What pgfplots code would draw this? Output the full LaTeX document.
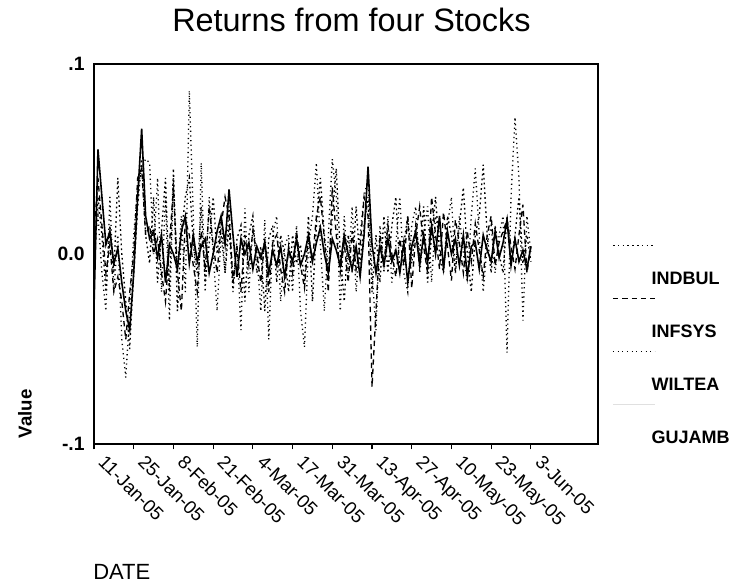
\documentclass[border=0pt]{standalone}
\usepackage{pgfplots}
\pgfplotsset{compat=1.18}
\usepackage{pgfplotstable}
\usepackage{fontspec}
\setmainfont{Liberation Sans}

\pgfplotstableread{
x indbul infsys wiltea gujamb
1 -0.010 0.010 0.005 -0.028
2 0.030 0.040 0.020 0.055
3 0.010 0.015 -0.010 0.030
4 -0.020 -0.010 -0.030 0.005
5 0.015 0.005 0.030 0.012
6 -0.010 -0.020 -0.020 -0.005
7 0.040 -0.012 0.010 0.003
8 0.000 -0.025 -0.045 -0.015
9 -0.025 -0.045 -0.065 -0.030
10 -0.050 -0.020 -0.030 -0.040
11 -0.010 0.000 0.010 -0.010
12 0.025 0.040 0.035 0.030
13 0.050 0.045 0.045 0.066
14 0.010 0.010 0.050 0.020
15 -0.005 0.015 0.048 0.008
16 0.030 0.000 0.000 0.012
17 -0.015 0.008 0.040 -0.002
18 0.012 -0.010 -0.020 0.010
19 0.040 -0.025 0.030 -0.015
20 -0.020 0.005 -0.035 0.005
21 0.045 0.035 0.040 0.000
22 -0.030 -0.010 -0.010 -0.008
23 0.010 -0.030 0.020 0.012
24 0.030 0.018 -0.020 0.020
25 0.040 0.010 0.086 -0.005
26 0.005 -0.006 0.020 0.010
27 -0.010 -0.020 -0.049 -0.004
28 0.025 0.012 0.048 0.004
29 -0.015 -0.008 -0.020 0.008
30 0.005 0.025 0.030 -0.010
31 0.030 0.005 0.000 0.000
32 0.000 -0.010 -0.030 0.012
33 0.020 0.015 0.010 0.020
34 -0.010 0.030 -0.010 0.005
35 0.015 0.020 0.025 0.034
36 -0.020 -0.015 -0.015 0.010
37 0.008 0.004 0.005 -0.012
38 0.015 -0.020 -0.040 0.008
39 -0.025 0.010 0.024 0.000
40 0.010 -0.006 -0.020 0.006
41 0.020 0.012 0.015 -0.008
42 -0.010 0.000 0.000 0.004
43 0.004 -0.015 -0.030 -0.002
44 -0.030 0.008 0.018 0.006
45 0.008 -0.020 -0.045 -0.010
46 0.015 0.006 0.010 0.002
47 -0.015 0.010 0.020 -0.006
48 0.010 -0.008 -0.025 0.004
49 0.000 -0.020 0.004 -0.012
50 -0.020 0.004 0.010 0.002
51 0.010 -0.010 -0.020 -0.004
52 -0.005 0.012 0.015 0.008
53 0.005 -0.006 -0.030 -0.006
54 -0.015 -0.018 -0.049 0.000
55 0.020 0.010 0.005 0.010
56 -0.025 -0.004 0.020 -0.004
57 0.015 0.020 0.048 0.006
58 0.040 0.030 0.005 0.014
59 0.010 0.008 -0.030 0.000
60 -0.010 -0.020 0.010 -0.010
61 0.020 0.035 0.050 0.008
62 0.045 0.010 0.030 0.002
63 0.000 -0.010 -0.030 -0.006
64 -0.025 0.006 0.020 0.010
65 0.010 -0.015 -0.010 0.000
66 -0.010 0.012 0.025 -0.008
67 0.025 -0.008 -0.020 0.004
68 -0.005 0.004 0.010 -0.012
69 0.015 0.030 0.030 0.010
70 0.030 0.020 0.040 0.046
71 -0.020 -0.070 -0.010 0.005
72 0.010 -0.030 -0.040 -0.010
73 -0.015 0.010 0.015 0.004
74 0.020 -0.005 -0.010 -0.006
75 -0.010 0.015 0.020 0.008
76 0.015 0.000 -0.015 -0.004
77 0.030 -0.012 0.005 0.002
78 -0.010 0.008 0.030 -0.010
79 0.005 -0.006 -0.010 0.006
80 0.020 0.020 -0.020 -0.015
81 -0.005 -0.018 0.015 0.004
82 0.015 0.010 0.025 0.012
83 0.000 0.025 -0.010 -0.006
84 0.025 0.004 0.010 0.010
85 -0.015 -0.010 0.025 -0.004
86 0.010 0.030 -0.015 0.015
87 0.030 0.010 0.020 0.000
88 0.000 -0.008 0.010 0.020
89 -0.010 0.022 -0.008 -0.008
90 0.020 0.004 0.015 0.012
91 0.010 -0.014 0.030 0.000
92 -0.010 0.018 -0.010 0.008
93 0.015 0.006 0.020 -0.006
94 0.035 -0.010 0.000 0.010
95 0.000 0.012 -0.015 -0.012
96 -0.020 -0.004 0.020 0.004
97 0.010 0.016 0.045 0.006
98 0.020 0.002 0.010 -0.008
99 0.047 -0.012 -0.020 0.010
100 0.010 0.010 0.005 0.002
101 -0.010 0.020 0.015 -0.004
102 0.015 -0.006 -0.010 0.012
103 0.000 0.006 0.010 -0.002
104 -0.010 0.012 0.020 0.006
105 0.020 0.018 -0.052 0.018
106 -0.005 0.004 0.030 -0.006
107 0.010 -0.008 0.072 0.008
108 0.030 0.010 0.040 -0.004
109 -0.005 0.026 -0.035 0.002
110 0.010 -0.010 0.020 -0.008
111 -0.004 0.004 0.000 0.004
}\returns

\begin{document}
\begin{tikzpicture}
\path[use as bounding box] (0,0) rectangle (548.25pt,437.25pt);
\begin{axis}[
  at={(70.5pt,104.25pt)}, anchor=south west,
  scale only axis, width=378pt, height=285pt,
  xmin=1, xmax=127.9, ymin=-0.1, ymax=0.1,
  axis line style={line width=1pt},
  xtick={1,11,...,111},
  xticklabels={11-Jan-05,25-Jan-05,8-Feb-05,21-Feb-05,4-Mar-05,17-Mar-05,31-Mar-05,13-Apr-05,27-Apr-05,10-May-05,23-May-05,3-Jun-05},
  xtick pos=bottom,
  x tick style={black, line width=0.8pt},
  xtick align=outside, major tick length=4pt,
  xticklabel style={font=\fontsize{14}{16}\selectfont, xshift=9.5pt, yshift=-2pt, rotate=-45, anchor=north west, inner sep=1pt},
  ytick={-0.1,0,0.1}, yticklabels={-.1,0.0,.1},
  ytick style={draw=none},
  yticklabel style={font=\fontsize{14.5}{16}\selectfont\bfseries, xshift=-3.5pt},
  legend cell align=left,
  legend style={draw=none, fill=none, at={(1.1032,0.456)}, anchor=north west,
    inner sep=0pt, row sep=29.75pt, column sep=0pt,
    nodes={inner sep=0pt, text height=10pt, text depth=0pt, font=\fontsize{13.5}{15}\selectfont\bfseries}},
  legend image code/.code={\draw[#1, overlay] (-28.5pt,24pt) -- (3pt,24pt); \path (0,0);},
]
\addplot[black, line width=1pt, dash pattern=on 1.3pt off 2.3pt] table[x=x, y=indbul] {\returns};
\addlegendentry{INDBUL}
\addplot[black, line width=1pt, dash pattern=on 4pt off 3pt] table[x=x, y=infsys] {\returns};
\addlegendentry{INFSYS}
\addplot[black, line width=1pt, dash pattern=on 0.9pt off 2.6pt] table[x=x, y=wiltea] {\returns};
\addlegendentry{WILTEA}
\addplot[black, line width=1.2pt, legend image post style={draw=black!12, line width=0.6pt}] table[x=x, y=gujamb] {\returns};
\addlegendentry{GUJAMB}
\end{axis}
\node[anchor=base, font=\fontsize{24.3}{28}\selectfont] at (263.6pt,413.25pt) {Returns from four Stocks};
\node[rotate=90, font=\fontsize{14}{16}\selectfont\bfseries] at (18.75pt,126.75pt) {Value};
\node[anchor=base west, inner sep=0pt, font=\fontsize{16.5}{19}\selectfont] at (69.75pt,3pt) {DATE};
\end{tikzpicture}
\end{document}
